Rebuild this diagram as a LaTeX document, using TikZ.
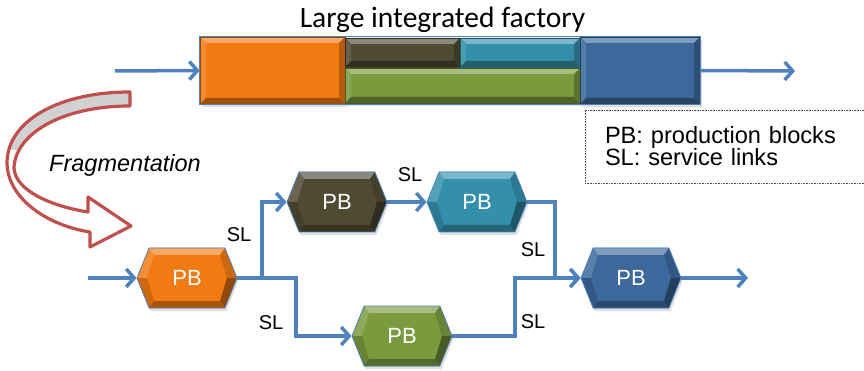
\documentclass[tikz,border=0pt]{standalone}
\usepackage{fontspec}
\setmainfont{Liberation Sans}
\newfontfamily\titlefont{Carlito}
\usetikzlibrary{arrows.meta,shapes.symbols,shadows,positioning,calc}

\definecolor{linkblue}{HTML}{4F81BD}
\definecolor{fragred}{HTML}{C0504D}
\definecolor{pbOrange}{HTML}{F27A12}
\definecolor{pbOlive}{HTML}{4F4A32}
\definecolor{pbTeal}{HTML}{3490AA}
\definecolor{pbGreen}{HTML}{7A9A3E}
\definecolor{pbBlue}{HTML}{3C689C}

% bevel faces of a production block (hexagon)
\newcommand\hexbevel[1]{%
  \path let \p1=(path picture bounding box.north west), \p2=(path picture bounding box.south east),
    \p3=(path picture bounding box.center) in
    (\x1,\y3) coordinate (hL) (\x1+12pt,\y1) coordinate (hTL) (\x2-12pt,\y1) coordinate (hTR)
    (\x2,\y3) coordinate (hR) (\x2-12pt,\y2) coordinate (hBR) (\x1+12pt,\y2) coordinate (hBL)
    (\x1+10pt,\y3) coordinate (iL) (\x1+17pt,\y1-7pt) coordinate (iTL) (\x2-17pt,\y1-7pt) coordinate (iTR)
    (\x2-10pt,\y3) coordinate (iR) (\x2-17pt,\y2+7pt) coordinate (iBR) (\x1+17pt,\y2+7pt) coordinate (iBL);
  \fill[#1!65!white] (hTL) -- (hTR) -- (iTR) -- (iTL) -- cycle;
  \fill[#1!85!white] (hL) -- (hTL) -- (iTL) -- (iL) -- cycle;
  \fill[#1!85!black] (hR) -- (hTR) -- (iTR) -- (iR) -- cycle;
  \fill[#1!60!black] (hR) -- (hBR) -- (iBR) -- (iR) -- cycle;
  \fill[#1!70!black] (hBL) -- (hBR) -- (iBR) -- (iBL) -- cycle;
  \fill[#1!85!black] (hL) -- (hBL) -- (iBL) -- (iL) -- cycle;
}
% bevel faces of a block of the factory
\newcommand\rectbevel[1]{%
  \path let \p1=(path picture bounding box.north west), \p2=(path picture bounding box.south east) in
    (\x1,\y1) coordinate (rNW) (\x2,\y1) coordinate (rNE) (\x2,\y2) coordinate (rSE) (\x1,\y2) coordinate (rSW)
    (\x1+6pt,\y1-6pt) coordinate (jNW) (\x2-6pt,\y1-6pt) coordinate (jNE)
    (\x2-6pt,\y2+6pt) coordinate (jSE) (\x1+6pt,\y2+6pt) coordinate (jSW);
  \fill[#1!65!white] (rNW) -- (rNE) -- (jNE) -- (jNW) -- cycle;
  \fill[#1!88!white] (rNW) -- (rSW) -- (jSW) -- (jNW) -- cycle;
  \fill[#1!75!black] (rNE) -- (rSE) -- (jSE) -- (jNE) -- cycle;
  \fill[#1!65!black] (rSW) -- (rSE) -- (jSE) -- (jSW) -- cycle;
}

\tikzset{
  link/.style={linkblue, line width=3.5pt, -{Straight Barb[length=8pt,width=18pt]}},
  blockshadow/.style={drop shadow={opacity=0.25, shadow xshift=1.5pt, shadow yshift=-3pt}},
  hexblock/.style={signal, signal to=east and west, signal pointer angle=136,
    minimum width=100pt, minimum height=60pt, inner sep=0pt, blockshadow,
    fill=#1, draw=linkblue, line width=0.8pt, text=white,
    font=\fontsize{22}{22}\selectfont, path picture={\hexbevel{#1}}},
  rectblock/.style={rectangle, inner sep=0pt, fill=#1, draw=#1!60!black,
    line width=0.6pt, blockshadow, path picture={\rectbevel{#1}}},
  sllabel/.style={font=\fontsize{20}{20}\selectfont},
}

\def\fragpath{(130,92) .. controls (60,92) and (8,120) .. (7,162)
  .. controls (7,200) and (50,226) .. (90,232) -- (90,247) -- (131,226) -- (88,197) -- (88,212)
  .. controls (50,206) and (15,190) .. (14,168) .. controls (15,135) and (60,106) .. (130,106) -- cycle}

\begin{document}
\begin{tikzpicture}[x=1pt,y=-1pt]
	\useasboundingbox (0,0) rectangle (864,371);

	% the large factory
	\node[font=\titlefont\fontsize{29.5}{30}\selectfont, anchor=base] (title) at (442.5,28) {Large integrated factory};
	\node[rectblock=pbOrange, minimum width=145pt, minimum height=67pt] (orangeB) at (272.5,70.5) {};
	\node[rectblock=pbOlive, minimum width=115pt, minimum height=29pt] (oliveB) at (402.5,52.5) {};
	\node[rectblock=pbTeal, minimum width=120pt, minimum height=29pt] (tealB) at (520,52.5) {};
	\node[rectblock=pbGreen, minimum width=235pt, minimum height=35pt] (greenB) at (462.5,85.5) {};
	\node[rectblock=pbBlue, minimum width=120pt, minimum height=67pt] (blueB) at (640,70.5) {};
	\draw[linkblue, line width=0.8pt] (orangeB.north west) rectangle (blueB.south east);
	\coordinate (topin) at (115,71);
	\coordinate (topout) at (795,71);
	\draw[link] (topin) -- (orangeB.west);
	\draw[link] (blueB.east) -- (topout);

	% legend
	\node[draw=black!70, dash pattern=on 0.8pt off 0.8pt, minimum width=279pt, minimum height=73pt,
		text width=239pt, inner xsep=20pt, align=left, font=\fontsize{23.6}{22}\selectfont] (legend) at (724.5,146.5)
		{PB: production blocks\\SL: service links};

	% fragmentation arrow
	\fill[white] \fragpath;
	\begin{scope}
		\clip (0,80) rectangle (140,150);
		\fill[black!18] \fragpath;
	\end{scope}
	\draw[fragred, line width=3.2pt, line join=round] \fragpath;
	\node[font=\itshape\fontsize{23.5}{24}\selectfont, anchor=base] (fragtext) at (125,172) {Fragmentation};

	% the fragmented network
	\node[hexblock=pbOrange] (orangeP) at (187,278) {PB};
	\node[hexblock=pbOlive] (oliveP) at (337,202) {PB};
	\node[hexblock=pbTeal] (tealP) at (477,202) {PB};
	\node[hexblock=pbGreen] (greenP) at (402,336) {PB};
	\node[hexblock=pbBlue] (blueP) at (631,278) {PB};

	\coordinate (netin) at (88,278);
	\coordinate (split) at (262,278);
	\coordinate (lowturn) at (296,278);
	\coordinate (mergeA) at (555,278);
	\coordinate (mergeB) at (515,278);
	\coordinate (netout) at (748,278);

	\draw[link] (netin) -- (orangeP.west);
	\draw[link] (orangeP.east) -- (split) |- (oliveP.west);
	\draw[link] (split) -- (lowturn) |- (greenP.west);
	\draw[link] (oliveP.east) -- (tealP.west);
	\draw[link] (tealP.east) -| (mergeA) -- (blueP.west);
	\draw[link] (greenP.east) -| (mergeB) -- (blueP.west);
	\draw[link] (blueP.east) -- (netout);

	\node[sllabel] (slA) at (239,235) {SL};
	\node[sllabel] (slB) at (271,323) {SL};
	\node[sllabel] (slC) at (410,175) {SL};
	\node[sllabel] (slD) at (533,250) {SL};
	\node[sllabel] (slE) at (533,322) {SL};
\end{tikzpicture}
\end{document}
